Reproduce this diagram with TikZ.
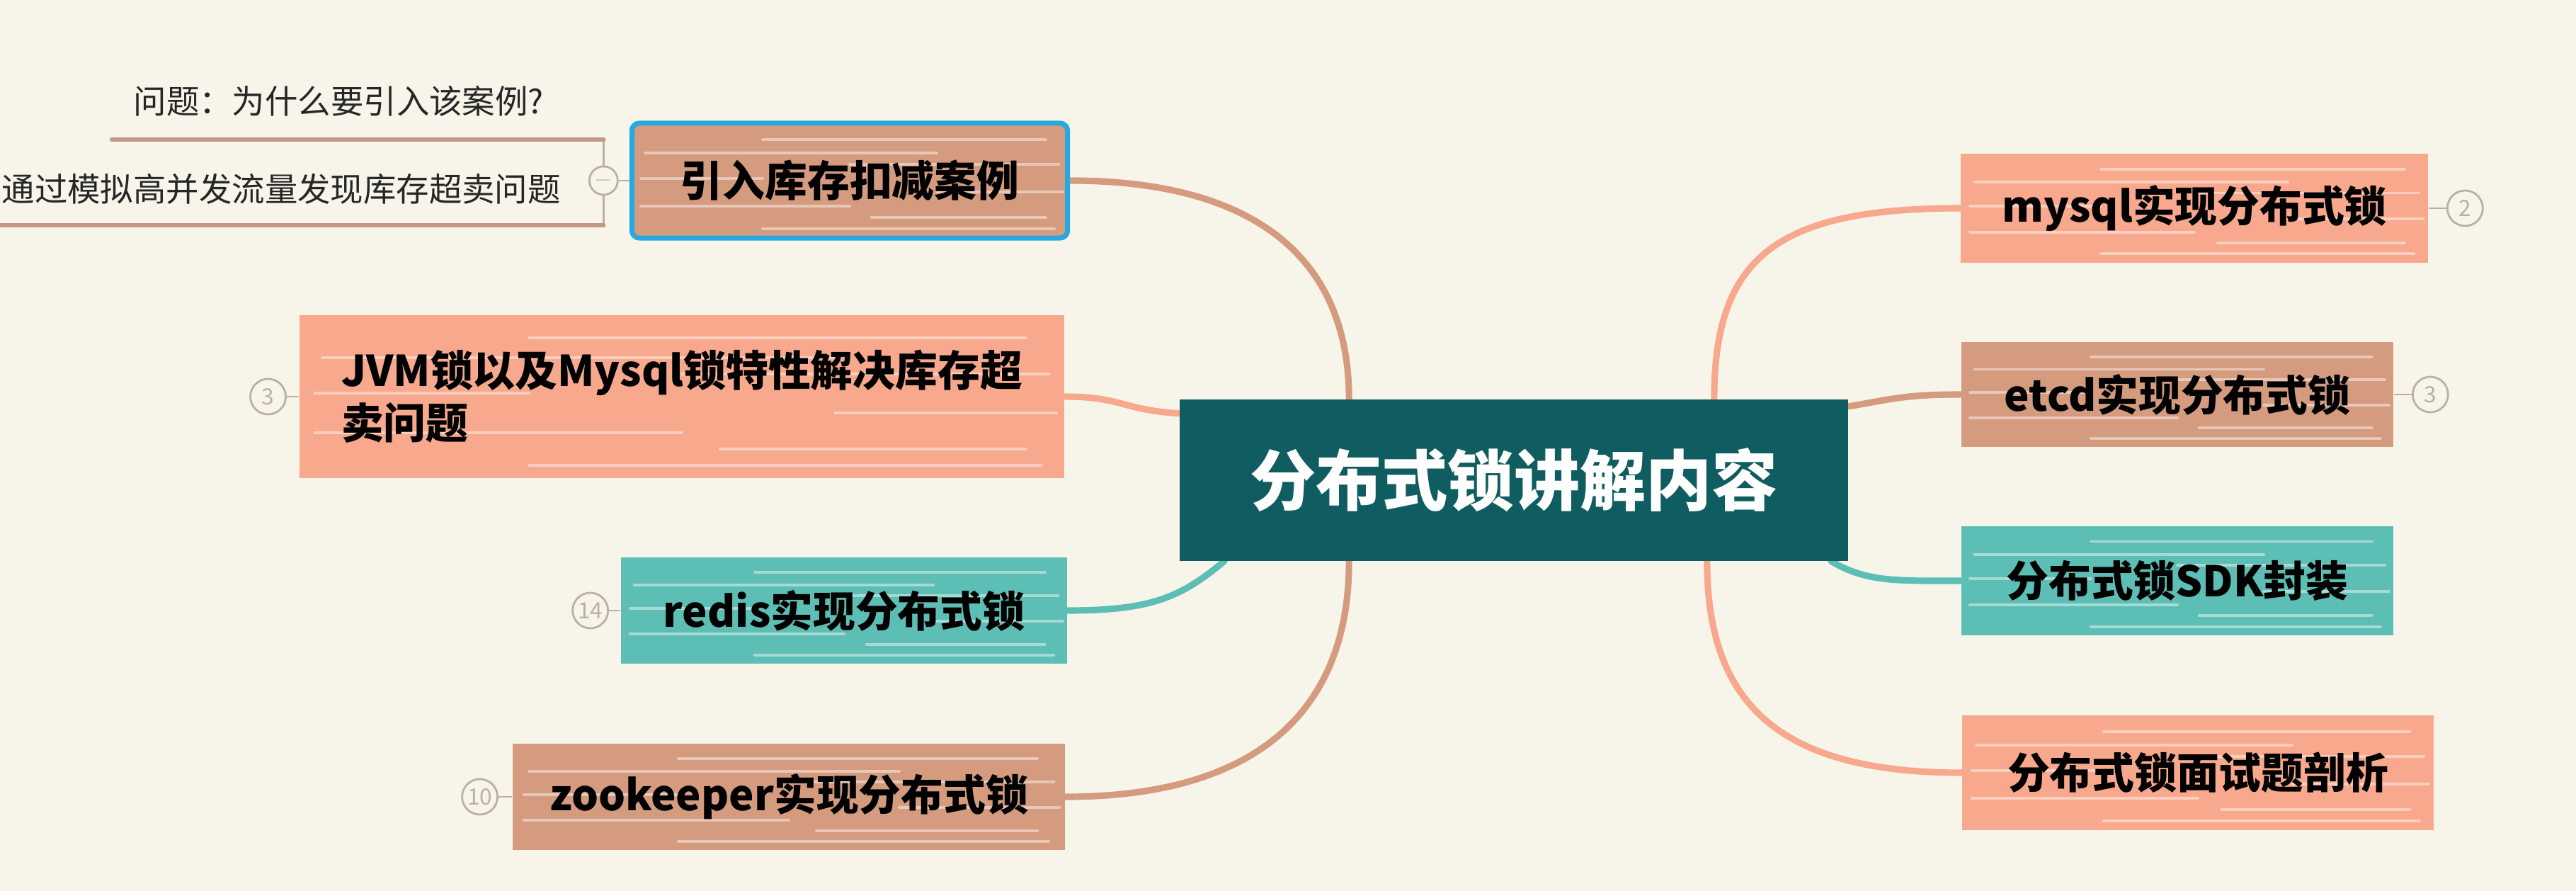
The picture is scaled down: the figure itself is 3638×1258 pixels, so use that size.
\documentclass[tikz,border=0pt]{standalone}
\usepackage{fontspec}
\setmainfont{Noto Sans CJK SC}
\usetikzlibrary{positioning,calc,backgrounds}
\definecolor{mmbg}{RGB}{247,245,233}
\definecolor{mmcore}{RGB}{15,93,97}
\definecolor{mmsalmon}{RGB}{248,168,140}
\definecolor{mmbrown}{RGB}{212,155,126}
\definecolor{mmteal}{RGB}{92,190,180}
\definecolor{mmselect}{RGB}{40,168,224}
\definecolor{mmline}{RGB}{196,150,132}
\definecolor{mmring}{RGB}{190,175,165}

\begin{document}
\begin{tikzpicture}[x=0.01cm,y=-0.01cm,
  every node/.style={inner sep=0pt},
  streaks/.style={path picture={
    \foreach \f/\a/\b in {0.08/0.3/0.97,0.18/0.55/0.95,0.28/0.02/0.5,0.4/0.7/0.99,0.52/0.02/0.3,0.64/0.5/0.98,0.74/0.03/0.7,0.86/0.3/0.95}
      \draw[white,opacity=0.45,line width=1.1pt,line cap=round]
        let \p1=(path picture bounding box.south west),\p2=(path picture bounding box.north east) in
        ({\x1+\a*(\x2-\x1)},{\y1+\f*(\y2-\y1)}) -- ({\x1+\b*(\x2-\x1)},{\y1+\f*(\y2-\y1)});}},
  topic/.style={streaks,font=\fontsize{17}{21}\selectfont\bfseries,align=center},
  core/.style={fill=mmcore,text=white,font=\fontsize{26.5}{30}\selectfont\bfseries},
  count/.style={circle,draw=mmring,line width=0.8pt,minimum size=0.5cm,text=mmring,font=\fontsize{9}{9}\selectfont},
  fold/.style={circle,draw=mmring,line width=0.8pt,minimum size=0.4cm,fill=mmbg,text=mmring,font=\fontsize{9}{9}\selectfont},
  branch/.style={line width=2.6pt,line cap=round},
  tick/.style={draw=mmring,line width=0.8pt},
  note/.style={font=\fontsize{13.2}{16}\selectfont,text=black!85},
  noteline/.style={draw=mmline,line width=1.8pt,line cap=round}]
  \useasboundingbox (0,0) rectangle (3638,1258);

  % central topic
  \node[core,minimum width=9.44cm,minimum height=2.27cm] (ctr) at (2138,678) {分布式锁讲解内容};

  % left side
  \node[topic,fill=mmbrown,draw=mmselect,line width=2pt,rounded corners=3pt,minimum width=6.15cm,minimum height=1.62cm] (intro) at (1200,255) {引入库存扣减案例};
  \node[topic,fill=mmsalmon,minimum width=10.8cm,minimum height=2.3cm,align=left] (jvm) at (963,560) {JVM锁以及Mysql锁特性解决库存超\\卖问题};
  \node[topic,fill=mmteal,minimum width=6.3cm,minimum height=1.5cm] (redis) at (1192,862) {redis实现分布式锁};
  \node[topic,fill=mmbrown,minimum width=7.8cm,minimum height=1.5cm] (zk) at (1114,1125) {zookeeper实现分布式锁};

  % right side
  \node[topic,fill=mmsalmon,minimum width=6.6cm,minimum height=1.53cm] (mysql) at (3099,294) {mysql实现分布式锁};
  \node[topic,fill=mmbrown,minimum width=6.1cm,minimum height=1.48cm] (etcd) at (3075,557) {etcd实现分布式锁};
  \node[topic,fill=mmteal,minimum width=6.1cm,minimum height=1.54cm] (sdk) at (3075,820) {分布式锁SDK封装};
  \node[topic,fill=mmsalmon,minimum width=6.65cm,minimum height=1.62cm] (exam) at (3104,1091) {分布式锁面试题剖析};

  % collapsed counts
  \node[count,right=0.25cm of mysql] (mysqln) {2};
  \node[count,right=0.25cm of etcd] (etcdn) {3};
  \node[count,left=0.17cm of jvm] (jvmn) {3};
  \node[count,left=0.16cm of redis] (redisn) {14};
  \node[count,left=0.19cm of zk] (zkn) {10};
  \draw[tick] (mysql.east) -- (mysqln.west);
  \draw[tick] (etcd.east) -- (etcdn.west);
  \draw[tick] (jvm.west) -- (jvmn.east);
  \draw[tick] (redis.west) -- (redisn.east);
  \draw[tick] (zk.west) -- (zkn.east);

  % notes of the first topic
  \node[fold,left=0.15cm of intro] (fold) {$-$};
  \draw[tick] (fold.east) -- (intro.west);
  \node[note,anchor=west] (why) at (188,143) {问题：为什么要引入该案例?};
  \node[note,anchor=west] (how) at (2,267) {通过模拟高并发流量发现库存超卖问题};
  \coordinate (whyend) at (158,197);
  \coordinate (howend) at (0,318);
  \draw[tick] (fold.north) |- (whyend);
  \draw[tick] (fold.south) |- (howend);
  \draw[noteline] (whyend) -- (whyend -| fold);
  \draw[noteline] (howend) -- (howend -| fold);

  \begin{scope}[on background layer]
    \fill[mmbg] (0,0) rectangle (3638,1258);
    \draw[branch,mmbrown] ([xshift=2.4cm]ctr.north west) .. controls +(0,-200) and +(260,0) .. (intro.east);
    \draw[branch,mmsalmon] ([yshift=-0.2cm]ctr.north west) .. controls +(-80,-5) and +(80,0) .. (jvm.east);
    \draw[branch,mmteal] ([xshift=0.64cm]ctr.south west) .. controls +(-60,50) and +(120,0) .. (redis.east);
    \draw[branch,mmbrown] ([xshift=2.4cm]ctr.south west) .. controls +(0,220) and +(260,0) .. (zk.east);
    \draw[branch,mmsalmon] ([xshift=-1.9cm]ctr.north east) .. controls +(0,-200) and +(-260,0) .. (mysql.west);
    \draw[branch,mmbrown] ([yshift=-0.1cm]ctr.north east) .. controls +(60,-10) and +(-80,0) .. (etcd.west);
    \draw[branch,mmteal] ([xshift=-0.25cm]ctr.south east) .. controls +(50,30) and +(-90,0) .. (sdk.west);
    \draw[branch,mmsalmon] ([xshift=-2.0cm]ctr.south east) .. controls +(0,200) and +(-260,0) .. (exam.west);
  \end{scope}
\end{tikzpicture}
\end{document}
